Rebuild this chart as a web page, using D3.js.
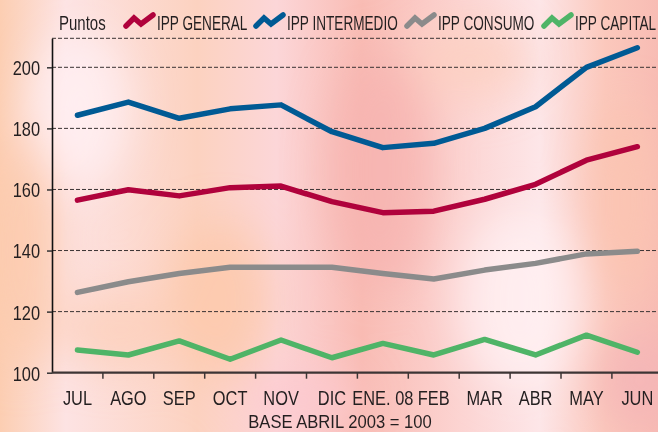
<!DOCTYPE html>
<html>
<head>
<meta charset="utf-8">
<script src="https://cdn.jsdelivr.net/npm/d3@7"></script>
<style>
  html, body { margin: 0; padding: 0; background: #fcd3c0; }
  svg { display: block; }
  text { font-family: "Liberation Sans", Arial, sans-serif; fill: #231f20; }
</style>
</head>
<body>
<div id="chart"></div>
<script>
let months = ['JUL', 'AGO', 'SEP', 'OCT', 'NOV', 'DIC', 'ENE. 08', 'FEB', 'MAR', 'ABR', 'MAY', 'JUN']
let ippGeneral = [156.5, 159.9, 157.9, 160.6, 161.1, 156.0, 152.4, 152.9, 156.8, 161.7, 169.6, 174.0]
let ippIntermedio = [184.3, 188.6, 183.3, 186.4, 187.7, 178.9, 173.7, 175.1, 180.0, 187.1, 200.0, 206.4]
let ippConsumo = [126.3, 129.8, 132.5, 134.5, 134.5, 134.5, 132.5, 130.7, 133.6, 135.8, 138.9, 139.8]
let ippCapital = [107.4, 105.8, 110.4, 104.4, 110.7, 104.9, 109.6, 105.8, 110.9, 105.8, 112.3, 106.7]
let seriesNames = ['IPP GENERAL', 'IPP INTERMEDIO', 'IPP CONSUMO', 'IPP CAPITAL']
let seriesColors = ['#b0023c', '#005a94', '#8b8b8b', '#4fb467']
let yTicks = [100, 120, 140, 160, 180, 200]

let width = 658, height = 432

let svg = d3.select('#chart').append('svg')
    .attr('width', width)
    .attr('height', height)

// blurry pastel background
let defs = svg.append('defs')
let bgGrad = defs.append('linearGradient').attr('id', 'bgGrad')
    .attr('x1', '0').attr('x2', '1').attr('y1', '0').attr('y2', '0')
let bgStops = [[0, '#fcceb2'], [0.1, '#fde3e3'], [0.3, '#fcd2c0'], [0.42, '#fcd6d8'],
    [0.55, '#f9bcb4'], [0.7, '#fcd4d2'], [0.82, '#fde6e8'], [0.92, '#fbc8bc'], [1, '#f8bcb4']]
bgGrad.selectAll('stop').data(bgStops).join('stop')
    .attr('offset', d => d[0])
    .attr('stop-color', d => d[1])
defs.append('filter').attr('id', 'blur').attr('x', '-50%').attr('y', '-50%').attr('width', '200%').attr('height', '200%')
    .append('feGaussianBlur').attr('stdDeviation', 22)

svg.append('rect').attr('width', width).attr('height', height).attr('fill', 'url(#bgGrad)')

let blobs = [
    [80, 110, 50, 80, '#fff0f4'], [220, 300, 50, 80, '#fdc8aa'], [300, 400, 60, 30, '#fcc8d0'],
    [380, 170, 50, 120, '#f6b3b0'], [520, 300, 60, 90, '#fff0f2'], [625, 200, 35, 100, '#fbc4b0'],
    [20, 250, 40, 120, '#fccaae'], [470, 60, 60, 40, '#fcd0c0'], [640, 380, 40, 50, '#f4b4b8'],
    [120, 330, 60, 40, '#fcd0bc']
]
svg.append('g').attr('filter', 'url(#blur)')
    .selectAll('ellipse').data(blobs).join('ellipse')
    .attr('cx', d => d[0]).attr('cy', d => d[1])
    .attr('rx', d => d[2]).attr('ry', d => d[3])
    .attr('fill', d => d[4])
    .attr('opacity', 0.8)

let x = d3.scaleBand().domain(months).range([52, 662.8])
let xc = d => x(d) + x.bandwidth() / 2
let y = d3.scaleLinear().domain([100, 209.5]).range([372.7, 38.3])

// condensed text: Liberation Sans squeezed horizontally
function condensed(sel, f) {
    sel.attr('transform', function() {
        let tx = +d3.select(this).attr('data-x'), ty = +d3.select(this).attr('data-y')
        return 'translate(' + tx + ',' + ty + ') scale(' + f + ',1)'
    })
}

// dashed grid
svg.append('g')
    .selectAll('line').data(yTicks.slice(1).concat([209.5])).join('line')
    .attr('x1', 52).attr('x2', width)
    .attr('y1', d => y(d)).attr('y2', d => y(d))
    .attr('stroke', '#3a3333')
    .attr('stroke-width', 1)
    .attr('stroke-dasharray', '4,2')

// y axis
let yAxis = svg.append('g')
    .attr('transform', 'translate(52,0)')
    .call(d3.axisLeft(y).tickValues(yTicks).tickSize(5).tickPadding(10).tickSizeOuter(0))
yAxis.select('.domain').attr('stroke', '#111').attr('stroke-width', 1.6)
yAxis.selectAll('.tick line').attr('stroke', '#333').attr('stroke-width', 1.5)
yAxis.selectAll('.tick text')
    .style('font-size', '20.5px')
    .attr('dy', '0.36em')
    .attr('transform', 'scale(0.8,1)')

// x axis
svg.append('line')
    .attr('x1', 52).attr('x2', width)
    .attr('y1', y(100)).attr('y2', y(100))
    .attr('stroke', '#3d3535').attr('stroke-width', 2.2)
svg.append('g')
    .selectAll('line').data(months.slice(1)).join('line')
    .attr('x1', d => x(d)).attr('x2', d => x(d))
    .attr('y1', y(100)).attr('y2', y(100) + 6)
    .attr('stroke', '#3d3535').attr('stroke-width', 1.5)
svg.append('g')
    .selectAll('text').data(months).join('text')
    .attr('data-x', d => xc(d))
    .attr('data-y', 405)
    .attr('text-anchor', 'middle')
    .style('font-size', '20.5px')
    .text(d => d)
    .call(condensed, 0.8)

svg.append('text')
    .attr('data-x', 340).attr('data-y', 428)
    .attr('text-anchor', 'middle')
    .style('font-size', '17.5px')
    .text('BASE ABRIL 2003 = 100')
    .call(condensed, 0.95)

// lines
let allSeries = [ippGeneral, ippIntermedio, ippConsumo, ippCapital]
let line = d3.line()
    .x((d, i) => xc(months[i]))
    .y(d => y(d))

svg.append('g')
    .selectAll('path').data(allSeries).join('path')
    .attr('d', d => line(d))
    .attr('fill', 'none')
    .attr('stroke', (d, i) => seriesColors[i])
    .attr('stroke-width', 5.5)
    .attr('stroke-linejoin', 'round')
    .attr('stroke-linecap', 'round')

// legend
svg.append('text')
    .attr('data-x', 59).attr('data-y', 30)
    .style('font-size', '20px')
    .text('Puntos')
    .call(condensed, 0.75)

let legendX = [125, 255, 406, 543]
let icon = d3.line()([[1, 12], [9, 4], [16, 10], [28, 1]])
let legend = svg.append('g')
    .selectAll('g').data(seriesNames).join('g')
    .attr('transform', (d, i) => 'translate(' + legendX[i] + ',14)')
legend.append('path')
    .attr('d', icon)
    .attr('fill', 'none')
    .attr('stroke', (d, i) => seriesColors[i])
    .attr('stroke-width', 5.5)
    .attr('stroke-linecap', 'round')
    .attr('stroke-linejoin', 'miter')
legend.append('text')
    .attr('data-x', 32).attr('data-y', 16)
    .style('font-size', '20px')
    .text(d => d)
    .call(condensed, 0.68)
</script>
</body>
</html>
